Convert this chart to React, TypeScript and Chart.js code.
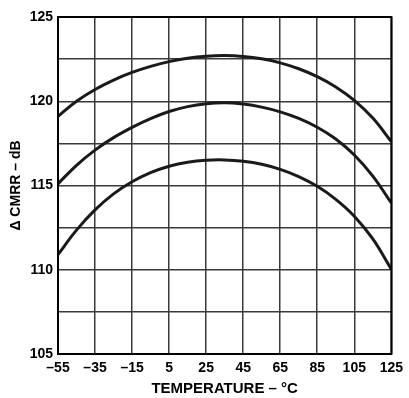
import React, { useEffect, useRef } from "react";
import { Chart, registerables } from "chart.js";

Chart.register(...registerables);

// Temperature sweep (°C) and ΔCMRR (dB) for three curves
const temperatures = [-55, -45, -35, -25, -15, -5, 5, 15, 25, 35, 45, 55, 65, 75, 85, 95, 105, 115, 125];
const cmrrUpper = [119.1, 120.0, 120.7, 121.26, 121.71, 122.07, 122.35, 122.55, 122.67, 122.71, 122.66, 122.52, 122.28, 121.93, 121.46, 120.85, 120.05, 119.0, 117.6];
const cmrrMiddle = [115.1, 116.2, 117.1, 117.84, 118.45, 118.97, 119.39, 119.68, 119.85, 119.91, 119.83, 119.65, 119.37, 118.98, 118.46, 117.76, 116.81, 115.56, 113.96];
const cmrrLower = [110.9, 112.35, 113.55, 114.5, 115.22, 115.76, 116.14, 116.38, 116.5, 116.52, 116.44, 116.26, 115.96, 115.53, 114.95, 114.18, 113.18, 111.83, 110.03];

const xTickValues = [-55, -35, -15, 5, 25, 45, 65, 85, 105, 125];
const xTickLabels = ["–55", "–35", "–15", "5", "25", "45", "65", "85", "105", "125"];
const yTickLabels = ["105", "110", "115", "120", "125"];

const FONT = "'Liberation Sans', Arial, Helvetica, sans-serif";

// Heavy rectangle around the plotting area
const frame = {
  id: "frame",
  afterDatasetsDraw(chart: any) {
    const { ctx, chartArea } = chart;
    ctx.save();
    ctx.strokeStyle = "#000";
    ctx.lineWidth = 2;
    ctx.strokeRect(chartArea.left, chartArea.top, chartArea.right - chartArea.left, chartArea.bottom - chartArea.top);
    ctx.restore();
  },
};

export default function App() {
  const ref = useRef<HTMLCanvasElement | null>(null);

  useEffect(() => {
    if (!ref.current) return;
    const series = [cmrrUpper, cmrrMiddle, cmrrLower];
    const chart = new Chart(ref.current, {
      type: "line",
      data: {
        datasets: series.map((s) => ({
          data: temperatures.map((t, i) => ({ x: t, y: s[i] })),
          borderColor: "#1a1a1a",
          borderWidth: 3,
          pointRadius: 0,
          tension: 0.4,
          fill: false,
        })),
      },
      options: {
        animation: false,
        responsive: false,
        layout: { padding: { top: 17, right: 14.5, left: 0, bottom: 0 } },
        plugins: { legend: { display: false }, tooltip: { enabled: false } },
        scales: {
          x: {
            type: "linear",
            min: -55,
            max: 125,
            afterFit: (s: any) => {
              s.height = 44;
            },
            ticks: {
              stepSize: 20,
              color: "#000",
              padding: 6,
              maxRotation: 0,
              autoSkip: false,
              font: { family: FONT, size: 14, weight: "bold" },
              callback: (v: any) => {
                const i = xTickValues.indexOf(Number(v));
                return i >= 0 ? xTickLabels[i] : "";
              },
            },
            grid: { color: "#3a3a3a", lineWidth: 1.5, drawTicks: false },
            border: { display: false },
            title: {
              display: true,
              text: "TEMPERATURE – °C",
              color: "#000",
              font: { family: FONT, size: 15, weight: "bold" },
              padding: { top: 0, bottom: 0 },
            },
          },
          y: {
            type: "linear",
            min: 105,
            max: 125,
            afterFit: (s: any) => {
              s.width = 58;
            },
            ticks: {
              stepSize: 2.5,
              color: "#000",
              padding: 5,
              autoSkip: false,
              font: { family: FONT, size: 14, weight: "bold" },
              callback: (v: any) => {
                const label = String(v);
                return yTickLabels.includes(label) ? label : "";
              },
            },
            grid: { color: "#3a3a3a", lineWidth: 1.5, drawTicks: false },
            border: { display: false },
            title: {
              display: true,
              text: "Δ CMRR – dB",
              color: "#000",
              font: { family: FONT, size: 14, weight: "bold" },
              padding: { top: 8, bottom: 0 },
            },
          },
        },
      },
      plugins: [frame],
    });
    return () => chart.destroy();
  }, []);

  return (
    <div style={{ position: "fixed", left: 0, top: 0, width: 409, height: 398, background: "#fff" }}>
      <canvas ref={ref} width={409} height={398} />
    </div>
  );
}
